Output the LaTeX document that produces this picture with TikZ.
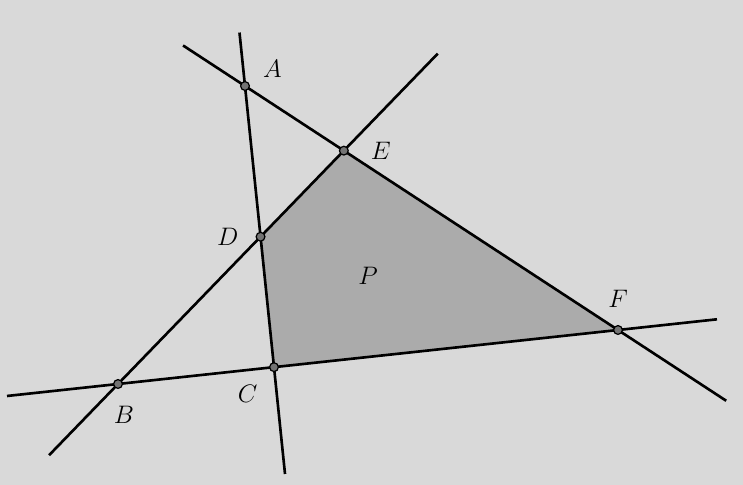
\documentclass[tikz,border=0pt]{standalone}
\usepackage{amsmath,amssymb}
\usetikzlibrary{positioning, calc}
\usepackage{xcolor}

\begin{document}
\begin{tikzpicture}[
  linie/.style={line width=1.5pt, black},
  punkt/.style={circle, draw=black, fill=black!55, inner sep=0pt, minimum size=5pt, line width=0.7pt},
  lbl/.style={font=\Large, inner sep=1pt}]

% --- background and frame ---
\fill[black!15] (0,0) rectangle (14.86,9.70);
\useasboundingbox (0,0) rectangle (14.86,9.70);

% --- base points ---
\coordinate (A) at (4.90,7.98);
\coordinate (B) at (2.36,2.02);
\coordinate (F) at (12.36,3.10);
\coordinate (C) at ($(B)!0.312!(F)$);
\coordinate (E) at ($(A)!0.265!(F)$);
\coordinate (D) at (intersection of A--C and B--E);

% --- shaded region P ---
\fill[black!33] (D) -- (E) -- (F) -- (C) -- cycle;

% --- the four lines ---
\draw[linie] ($(A)!-0.19!(C)$) -- ($(A)!1.38!(C)$);
\draw[linie] ($(A)!-0.166!(F)$) -- ($(A)!1.29!(F)$);
\draw[linie] ($(B)!-0.305!(E)$) -- ($(B)!1.416!(E)$);
\draw[linie] ($(B)!-0.222!(F)$) -- ($(B)!1.198!(F)$);

% --- intersection points ---
\node[punkt] (pA) at (A) {};
\node[punkt] (pB) at (B) {};
\node[punkt] (pC) at (C) {};
\node[punkt] (pD) at (D) {};
\node[punkt] (pE) at (E) {};
\node[punkt] (pF) at (F) {};

% --- labels ---
\node[lbl, above right=0.05cm and 0.25cm of pA] (lA) {$A$};
\node[lbl, right=0.4cm of pE] (lE) {$E$};
\node[lbl, left=0.3cm of pD] (lD) {$D$};
\node[lbl, above=0.3cm of pF] (lF) {$F$};
\node[lbl, below left=0.25cm and 0.22cm of pC] (lC) {$C$};
\node[lbl, below=0.3cm of pB, xshift=0.12cm] (lB) {$B$};
\node[lbl] (lP) at (7.36,4.18) {$P$};
\end{tikzpicture}
\end{document}
